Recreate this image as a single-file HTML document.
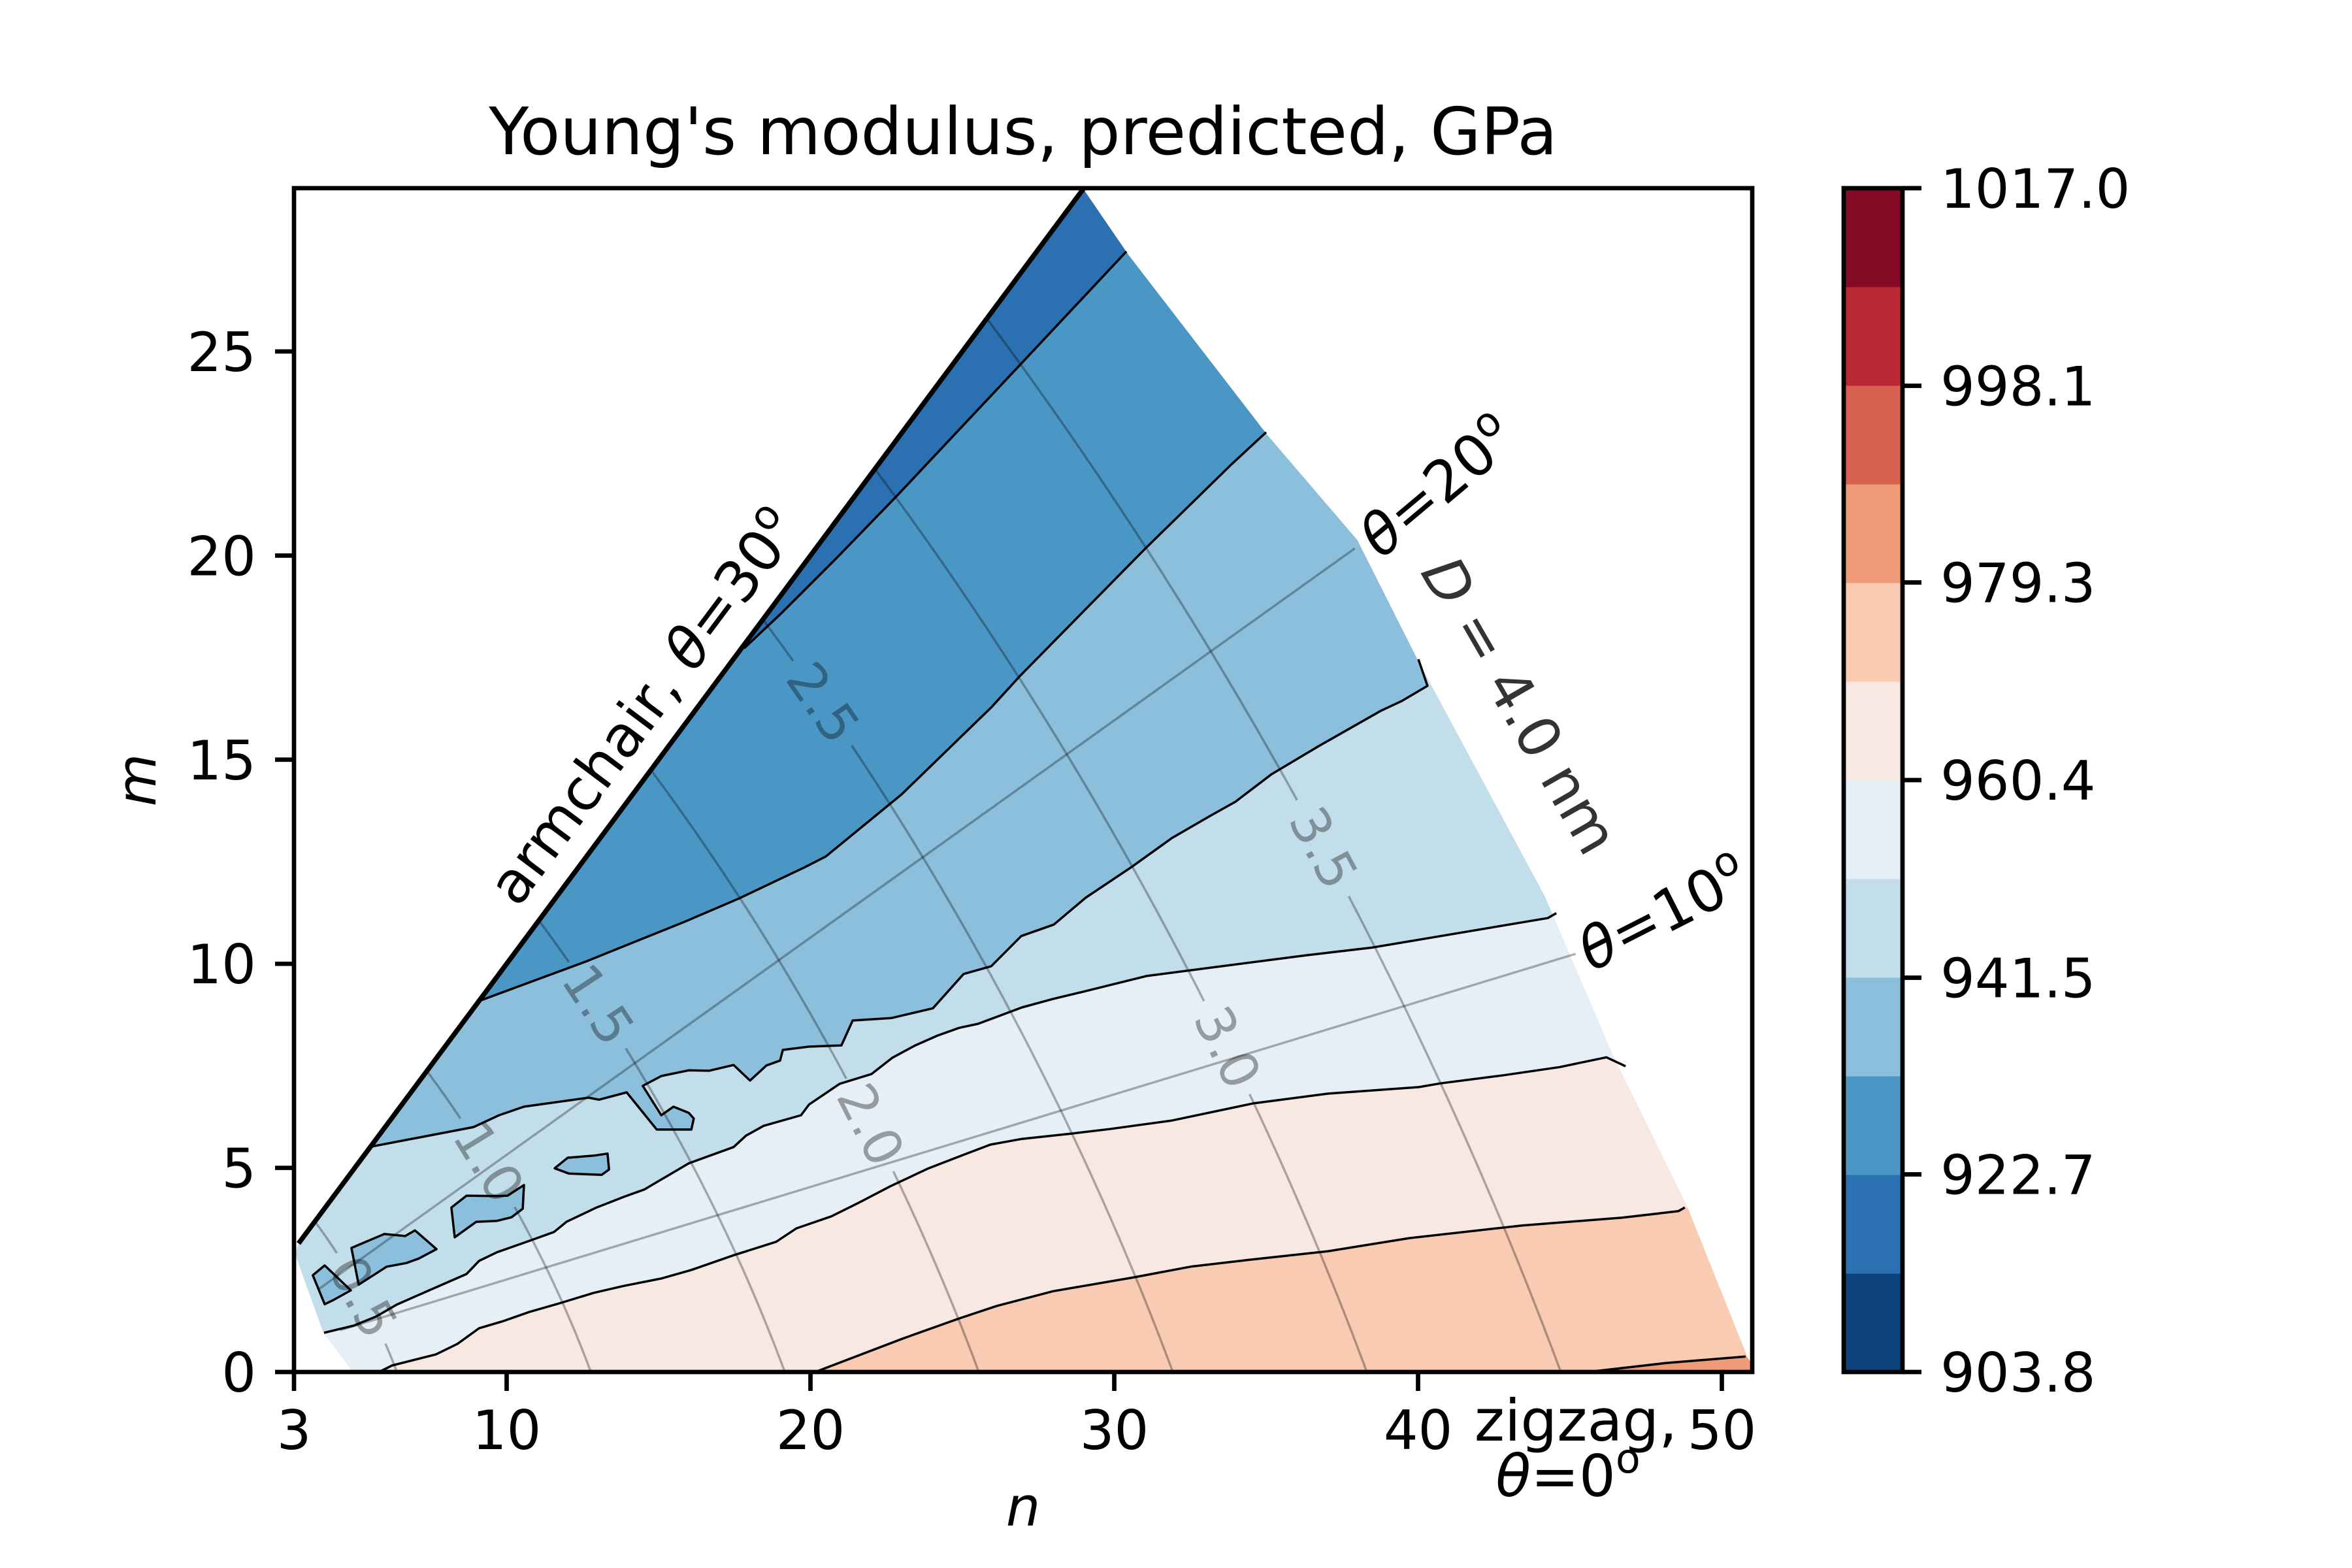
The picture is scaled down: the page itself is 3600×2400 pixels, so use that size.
<!DOCTYPE html>
<html><head><meta charset="utf-8"><style>
html,body{margin:0;padding:0;background:#fff;}
svg{display:block;font-family:"DejaVu Sans","Liberation Sans",sans-serif;}
</style></head><body>
<svg id="chart" width="3600" height="2400" viewBox="0 0 3600 2400" xmlns="http://www.w3.org/2000/svg">
<rect x="0" y="0" width="3600" height="2400" fill="#fff"/>
<text x="1566" y="236" font-size="100" text-anchor="middle" fill="#000">Young's modulus, predicted, GPa</text>
<g id="plot"></g>
<g id="axes"></g>
<g id="cbar"></g>
</svg>
<script>
// ---- data ----
const xTicks = [3, 10, 20, 30, 40, 50];
const yTicks = [0, 5, 10, 15, 20, 25];
const cbarTicks = ["903.8", "922.7", "941.5", "960.4", "979.3", "998.1", "1017.0"];
const cbarMin = 903.8;
const cbarMax = 1017.0;
const bandColors = ["#0f437b", "#2b70b0", "#4a97c6", "#8bbfdb", "#c3deeb", "#e6eff5", "#f7e8e1", "#f8cbb2", "#ef9b78", "#d8624f", "#b92834", "#850a26"];
const diameterLevels = [0.5, 1.0, 1.5, 2.0, 2.5, 3.0, 3.5];
const diameterLabelPos = [[5.37, 1.87], [9.58, 5.22], [13.1, 9.07], [22.1, 6.15], [20.5, 16.5], [33.8, 7.97], [37.0, 12.9]];
const chiralAngles = [10, 20];
const innerBoundary = [[3.15, 3.15], [3.04, 2.88], [3.97, 0.96], [4.94, 0]];
const outerBoundary = [[51.0, 0], [51.0, 0.2], [50.85, 0.35], [48.87, 4.03], [46.4, 7.78], [44.18, 11.64], [39.99, 17.44], [38.0, 20.38], [35.04, 22.95], [30.46, 27.37], [28.98, 28.98]];
// contour boundary lines (n, m), right -> left; band index above each line
const contour1 = [[30.4, 27.45], [26.91, 24.68], [22.83, 21.45], [20.85, 19.93], [19.06, 18.60], [17.82, 17.73]];
const contour2 = [[35.0, 23.02], [33.88, 22.25], [31.02, 20.17], [26.91, 17.06], [25.95, 16.28], [23.0, 14.15], [20.51, 12.63], [19.80, 12.36], [17.65, 11.60], [15.86, 11.03], [12.66, 10.07], [9.17, 9.11]];
const contour3 = [[40.01, 17.46], [40.31, 16.81], [39.47, 16.44], [38.78, 16.20], [36.70, 15.32], [35.17, 14.64], [33.99, 13.97], [33.15, 13.62], [31.90, 13.08], [30.57, 12.37], [29.06, 11.62], [28.01, 10.96], [26.94, 10.68], [25.95, 9.94], [25.04, 9.75], [24.03, 8.91], [22.66, 8.67], [21.39, 8.61], [21.02, 8.00], [19.95, 7.97], [19.09, 7.89], [19.00, 7.63], [18.55, 7.51], [18.01, 7.14], [17.47, 7.52], [16.66, 7.38], [15.99, 7.39], [15.09, 7.25], [14.48, 7.01], [15.09, 6.29], [15.49, 6.50], [15.99, 6.35], [16.16, 6.21], [16.08, 5.94], [14.94, 5.94], [13.95, 6.85], [13.04, 6.67], [12.70, 6.72], [10.57, 6.50], [9.75, 6.29], [8.91, 6.00], [5.47, 5.51]];
const contour4 = [[44.55, 11.24], [44.27, 11.12], [38.51, 10.40], [36.33, 10.21], [31.06, 9.70], [28.89, 9.30], [27.99, 9.14], [26.96, 8.93], [25.52, 8.53], [24.89, 8.43], [24.18, 8.24], [23.45, 8.00], [22.70, 7.70], [22.01, 7.30], [20.96, 7.06], [19.95, 6.55], [19.69, 6.29], [18.46, 6.03], [17.88, 5.79], [17.47, 5.51], [15.99, 5.11], [15.26, 4.79], [14.53, 4.47], [13.86, 4.29], [12.96, 4.03], [11.97, 3.68], [11.56, 3.43], [10.89, 3.25], [9.67, 2.93], [9.09, 2.72], [8.68, 2.40], [7.45, 2.00], [6.38, 1.65], [5.71, 1.36], [4.98, 1.14], [3.99, 0.96]];
const contour5 = [[46.83, 7.49], [46.20, 7.71], [44.66, 7.47], [42.81, 7.27], [40.74, 7.07], [40.03, 6.98], [37.04, 6.82], [34.57, 6.58], [31.90, 6.16], [29.84, 5.95], [28.59, 5.84], [26.96, 5.71], [25.92, 5.57], [25.00, 5.31], [23.86, 4.98], [22.63, 4.55], [21.60, 4.15], [20.68, 3.81], [19.54, 3.52], [18.87, 3.19], [17.47, 2.86], [16.08, 2.50], [15.09, 2.29], [13.86, 2.11], [12.87, 1.94], [11.73, 1.68], [10.74, 1.47], [9.90, 1.25], [9.09, 1.07], [8.38, 0.69], [7.67, 0.43], [6.23, 0.16], [5.80, 0.0]];
const contour6 = [[48.78, 4.03], [48.57, 3.94], [46.72, 3.78], [43.43, 3.59], [39.71, 3.28], [37.04, 2.96], [34.35, 2.74], [32.51, 2.58], [30.66, 2.32], [27.99, 1.98], [26.14, 1.62], [24.89, 1.31], [23.04, 0.82], [20.16, 0.0]];
const contour7 = [[50.78, 0.38], [48.16, 0.22], [45.58, 0.0]];
const contours = [contour7, contour6, contour5, contour4, contour3, contour2, contour1];
const contourBand = [7, 6, 5, 4, 3, 2, 1];
const baseBand = 8;
const island1 = [[12.01, 5.25], [12.87, 5.30], [13.32, 5.35], [13.37, 4.96], [13.13, 4.83], [12.05, 4.86], [11.58, 4.99]];
const island2 = [[8.18, 4.03], [8.68, 4.32], [9.67, 4.31], [10.03, 4.32], [10.57, 4.58], [10.53, 4.00], [10.16, 3.79], [9.67, 3.70], [9.0, 3.68], [8.29, 3.30]];
const island3 = [[4.89, 3.04], [5.97, 3.38], [6.66, 3.33], [6.98, 3.47], [7.69, 3.01], [7.11, 2.78], [6.70, 2.67], [6.05, 2.58], [5.13, 2.14]];
const island4 = [[3.62, 2.37], [4.01, 2.61], [4.87, 2.00], [4.29, 1.76], [4.01, 1.66]];
const islands = [island1, island2, island3, island4];
const islandBand = 3;

// ---- axes ----
const AX = {l: 450, r: 2682, t: 288, b: 2100, nMin: 3, nMax: 51, mMin: 0, mMax: 29};
const X = n => AX.l + (n - AX.nMin) / (AX.nMax - AX.nMin) * (AX.r - AX.l);
const Y = m => AX.b - (m - AX.mMin) / (AX.mMax - AX.mMin) * (AX.b - AX.t);
const CB = {l: 2822, r: 2912, t: 288, b: 2100};
const CY = v => CB.b - (v - cbarMin) / (cbarMax - cbarMin) * (CB.b - CB.t);
const NS = "http://www.w3.org/2000/svg";
function mk(tag, attrs, parent) {
  const e = document.createElementNS(NS, tag);
  for (const k in attrs) e.setAttribute(k, attrs[k]);
  parent.appendChild(e);
  return e;
}
const pt = p => X(p[0]).toFixed(1) + "," + Y(p[1]).toFixed(1);
const ptsStr = arr => arr.map(pt).join(" ");
function chiralPoint(D, thetaDeg) {
  const t = Math.tan(thetaDeg * Math.PI / 180) / Math.sqrt(3);
  const r = 2 * t / (1 - t);
  const n = (D / 0.0783) / Math.sqrt(1 + r + r * r);
  return [n, r * n];
}
const svg = document.getElementById("chart");
const plot = document.getElementById("plot");
const axes = document.getElementById("axes");
const cbar = document.getElementById("cbar");

// domain clip
const domain = innerBoundary.concat(outerBoundary);
const defs = mk("defs", {}, svg);
const cp = mk("clipPath", {id: "domclip"}, defs);
mk("polygon", {points: ptsStr(domain)}, cp);
const clipG = mk("g", {"clip-path": "url(#domclip)"}, plot);



const base = mk("polygon", {points: ptsStr(domain), fill: bandColors[baseBand]}, clipG);


contours.forEach((c, i) => {
  const first = c[0], last = c[c.length - 1];
  const poly = c.concat([[-50, last[1]], [-50, 100], [100, 100], [100, first[1]]]);
  const el = mk("polygon", {points: ptsStr(poly), fill: bandColors[contourBand[i]]}, clipG);
  
  
});
islands.forEach(isl => {
  const el = mk("polygon", {points: ptsStr(isl), fill: bandColors[islandBand], stroke: "#000", "stroke-width": 3.5, "stroke-linejoin": "round"}, clipG);
  
  
});

// chirality lines
chiralAngles.forEach(a => {
  const p0 = chiralPoint(0.4, a), p1 = chiralPoint(4.0, a);
  const el = mk("line", {x1: X(p0[0]), y1: Y(p0[1]), x2: X(p1[0]), y2: Y(p1[1]), stroke: "#000", "stroke-opacity": 0.3, "stroke-width": 3.5}, plot);
  
  
});

// diameter arcs with inline labels
diameterLevels.forEach((D, i) => {
  const lp = diameterLabelPos[i];
  const lx = X(lp[0]), ly = Y(lp[1]);
  let seg = [], segs = [];
  let bestD = 1e9, bestIdx = 0;
  const pts = [];
  for (let k = 0; k <= 200; k++) {
    const p = chiralPoint(D, k * 30 / 200);
    pts.push([X(p[0]), Y(p[1])]);
  }
  pts.forEach((q, k) => {
    const d = Math.hypot(q[0] - lx, q[1] - ly);
    if (d < bestD) { bestD = d; bestIdx = k; }
  });
  const c = pts[bestIdx];
  pts.forEach(q => {
    if (Math.hypot(q[0] - c[0], q[1] - c[1]) < 78) {
      if (seg.length > 1) segs.push(seg);
      seg = [];
    } else seg.push(q);
  });
  if (seg.length > 1) segs.push(seg);
  segs.forEach(s => {
    const el = mk("polyline", {points: s.map(q => q[0].toFixed(1) + "," + q[1].toFixed(1)).join(" "), fill: "none", stroke: "#000", "stroke-opacity": 0.3, "stroke-width": 3.5}, plot);
    
    
  });
  const a = pts[Math.max(0, bestIdx - 1)], b = pts[Math.min(pts.length - 1, bestIdx + 1)];
  let ang = Math.atan2(b[1] - a[1], b[0] - a[0]) * 180 / Math.PI;
  if (ang > 90) ang -= 180;
  if (ang <= -90) ang += 180;
  const t = mk("text", {x: c[0], y: c[1], "font-size": 80, fill: "#000", "fill-opacity": 0.35, "text-anchor": "middle", "dominant-baseline": "central", transform: `rotate(${ang.toFixed(1)} ${c[0].toFixed(1)} ${c[1].toFixed(1)})`}, plot);
  t.textContent = D.toFixed(1);
  
  
});

// contour lines
contours.forEach(c => {
  const el = mk("polyline", {points: ptsStr(c), fill: "none", stroke: "#000", "stroke-width": 3.5, "stroke-linejoin": "round"}, plot);
  
  
});

// armchair line
const arm = mk("line", {x1: X(3.15), y1: Y(3.15), x2: X(28.98), y2: Y(28.98), stroke: "#000", "stroke-width": 7.5}, plot);



// spines & ticks
const spine = mk("rect", {x: AX.l, y: AX.t, width: AX.r - AX.l, height: AX.b - AX.t, fill: "none", stroke: "#000", "stroke-width": 6.7}, axes);


xTicks.forEach(v => {
  const x = X(v);
  const tk = mk("line", {x1: x, y1: AX.b, x2: x, y2: AX.b + 29, stroke: "#000", "stroke-width": 6.7}, axes);
  
  
  const tl = mk("text", {x: x, y: 2218, "font-size": 83, "text-anchor": "middle", fill: "#000"}, axes);
  tl.textContent = String(v);
  
  
});
yTicks.forEach(v => {
  const y = Y(v);
  const tk = mk("line", {x1: AX.l - 29, y1: y, x2: AX.l, y2: y, stroke: "#000", "stroke-width": 6.7}, axes);
  
  
  const tl = mk("text", {x: 392, y: y + 30, "font-size": 83, "text-anchor": "end", fill: "#000"}, axes);
  tl.textContent = String(v);
  
  
});
const xl = mk("text", {x: 1566, y: 2335, "font-size": 83, "font-style": "italic", "text-anchor": "middle"}, axes);
xl.textContent = "n";


const yl = mk("text", {x: 0, y: 0, "font-size": 83, "font-style": "italic", "text-anchor": "middle", transform: "translate(238,1194) rotate(-90)"}, axes);
yl.textContent = "m";



// annotations
function annot(name, x, y, rot, parts, color, anchor) {
  const t = mk("text", {x: 0, y: 0, "font-size": 88, fill: color, "text-anchor": anchor || "middle", transform: `translate(${x},${y}) rotate(${rot})`}, axes);
  
  
  parts.forEach(p => {
    const s = mk("tspan", p.a || {}, t);
    s.textContent = p.s;
  });
  return t;
}
annot("armchair-label", 1010, 1100, -53.2, [{s: "armchair, "}, {s: "θ", a: {"font-style": "italic"}}, {s: "=30"}, {s: "o", a: {"baseline-shift": "super", "font-size": 62}}], "#000");
annot("theta-20-label", 2220, 768, -40, [{s: "θ", a: {"font-style": "italic"}}, {s: "=20"}, {s: "o", a: {"baseline-shift": "super", "font-size": 62}}], "#000");
annot("theta-10-label", 2560, 1425, -27, [{s: "θ", a: {"font-style": "italic"}}, {s: "=10"}, {s: "o", a: {"baseline-shift": "super", "font-size": 62}}], "#000");
annot("diameter-4nm-label", 2300, 1095, 60, [{s: "D", a: {"font-style": "italic"}}, {s: " = 4.0 nm"}], "#333");
annot("zigzag-label", 2412, 2205, 0, [{s: "zigzag,"}], "#000");
annot("theta-0-label", 2400, 2290, 0, [{s: "θ", a: {"font-style": "italic"}}, {s: "=0"}, {s: "o", a: {"baseline-shift": "super", "font-size": 62}}], "#000");

// colorbar
const nb = bandColors.length;
bandColors.forEach((col, i) => {
  const v0 = cbarMin + (cbarMax - cbarMin) * i / nb, v1 = cbarMin + (cbarMax - cbarMin) * (i + 1) / nb;
  const r = mk("rect", {x: CB.l, y: CY(v1), width: CB.r - CB.l, height: CY(v0) - CY(v1) + 0.5, fill: col}, cbar);
  
  
});
const cf = mk("rect", {x: CB.l, y: CB.t, width: CB.r - CB.l, height: CB.b - CB.t, fill: "none", stroke: "#000", "stroke-width": 6.7}, cbar);


cbarTicks.forEach(lbl => {
  const y = CY(parseFloat(lbl));
  const tk = mk("line", {x1: CB.r, y1: y, x2: CB.r + 29, y2: y, stroke: "#000", "stroke-width": 6.7}, cbar);
  
  
  const tl = mk("text", {x: 2970, y: y + 30, "font-size": 83, fill: "#000"}, cbar);
  tl.textContent = lbl;
  
  
});
</script>
</body></html>
